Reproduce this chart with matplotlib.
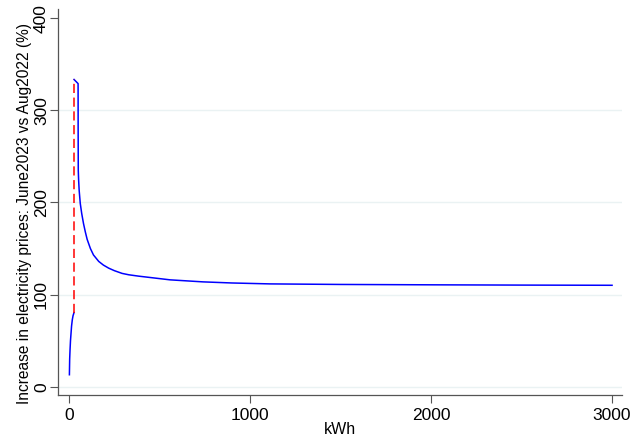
import matplotlib
matplotlib.use("Agg")
import matplotlib.pyplot as plt

plt.rcParams['font.family'] = ['Liberation Sans', 'DejaVu Sans']

# consumption (kWh) and price increase (%), below and above the threshold
kwh_low = [2, 3.5, 5.5, 8, 11, 14, 18, 22, 27.6]
pct_low = [13, 30, 40, 50, 58, 66, 72.6, 77, 80.5]

kwh_high = [27.6, 50, 50.3, 51, 53, 56, 62, 70, 80, 90, 100, 118, 135, 164, 190, 219,
            250, 293, 330, 385, 450, 558, 740, 900, 1110, 1500, 2000, 2500, 3000]
pct_high = [333.5, 329, 280, 235, 224, 213, 199, 188, 177, 168, 160, 150, 143, 136,
            132, 128.7, 126, 123, 121.5, 120, 118.5, 116, 113.8, 112.6, 111.6, 111.0,
            110.6, 110.3, 110.1]

threshold = 27.6
x_ticks = [0, 1000, 2000, 3000]
y_ticks = [0, 100, 200, 300, 400]

fig = plt.figure(figsize=(6.36, 4.38), dpi=100)
ax = fig.add_axes([58 / 636, 43 / 438, 564 / 636, 386 / 438])

for y in y_ticks[:-1]:
    ax.axhline(y, color='#eaf2f3', lw=1.0, zorder=0)

ax.plot(kwh_low, pct_low, color='#0000ff', lw=1.1, zorder=2)
ax.plot(kwh_high, pct_high, color='#0000ff', lw=1.1, zorder=2)
ax.plot([threshold, threshold], [pct_low[-1], pct_high[0]], color='#ff0000',
        lw=1.1, ls=(0, (6, 3)), zorder=3)

ax.set_xlim(-61, 3055)
ax.set_ylim(-9, 410)
ax.set_xticks(x_ticks)
ax.set_yticks(y_ticks)
ax.set_yticklabels([str(v) for v in y_ticks], rotation=90, va='center')
ax.tick_params(axis='both', direction='out', length=6, width=0.8, color='#555555',
               labelsize=12.5, pad=3)
ax.tick_params(axis='y', pad=0.5)

for side in ['top', 'right']:
    ax.spines[side].set_visible(False)
for side in ['left', 'bottom']:
    ax.spines[side].set_color('#555555')
    ax.spines[side].set_linewidth(0.9)

ax.set_xlabel('kWh', fontsize=11.5, labelpad=0)
ax.set_ylabel('Increase in electricity prices: June2023 vs Aug2022 (%)', fontsize=11.2)
ax.yaxis.set_label_coords(-0.046, 0.47)

fig.savefig('out.png', dpi=100)
